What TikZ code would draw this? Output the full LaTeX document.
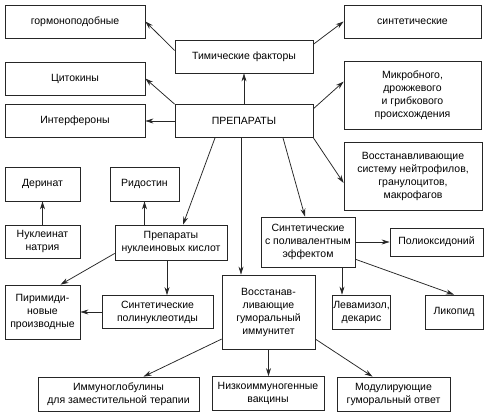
\documentclass[tikz,border=0pt]{standalone}
\usepackage{fontspec}
\setmainfont{Liberation Sans}
\usetikzlibrary{arrows.meta}

\tikzset{
	box/.style = {draw = black!85, line width = 0.75pt, align = center, inner sep = 1pt,
		font = \fontsize{10.5}{13}\selectfont},
	arr/.style = {draw = black!85, line width = 0.75pt, -{Stealth[length = 8pt, width = 5pt]}}
}

\begin{document}
\begin{tikzpicture}[x = 1pt, y = -1pt]
	\useasboundingbox[fill = white] (0,0) rectangle (484,412);
	% top row
	\node[box, minimum width = 140pt, minimum height = 33pt] (hormone) at (75,21.5) {гормоноподобные};
	\node[box, minimum width = 138pt, minimum height = 33pt] (thym) at (244,56.5) {Тимические факторы};
	\node[box, minimum width = 137pt, minimum height = 33pt] (synth) at (412.5,21.5) {синтетические};
	\node[box, minimum width = 140pt, minimum height = 33pt] (cyto) at (75,78.5) {Цитокины};
	\node[box, minimum width = 140pt, minimum height = 33pt] (interf) at (75,121) {Интерфероны};
	\node[box, minimum width = 138pt, minimum height = 33pt] (prep) at (244,121) {ПРЕПАРАТЫ};
	\node[box, minimum width = 137pt, minimum height = 68pt] (microb) at (412.5,95) {Микробного,\\дрожжевого\\и грибкового\\происхождения};
	\node[box, minimum width = 138pt, minimum height = 68pt] (neutro) at (413,176) {Восстанавливающие\\систему нейтрофилов,\\гранулоцитов,\\макрофагов};
	% middle
	\node[box, minimum width = 75pt, minimum height = 34pt] (derinat) at (42.5,184) {Деринат};
	\node[box, minimum width = 69pt, minimum height = 34pt] (ridostin) at (144.5,184) {Ридостин};
	\node[box, minimum width = 75pt, minimum height = 33pt] (nuclnat) at (42.5,241.5) {Нуклеинат\\натрия};
	\node[box, minimum width = 112pt, minimum height = 35pt] (nucl) at (171,242.5) {Препараты\\нуклеиновых кислот};
	\node[box, minimum width = 94pt, minimum height = 50pt] (poly) at (308,242) {Синтетические\\с поливалентным\\эффектом};
	\node[box, minimum width = 93pt, minimum height = 28pt] (polyox) at (436.5,242) {Полиоксидоний};
	\node[box, minimum width = 75pt, minimum height = 54pt] (pyrim) at (42.5,312) {Пиримиди-\\новые\\производные};
	\node[box, minimum width = 111pt, minimum height = 33pt] (polynucl) at (157.5,312) {Синтетические\\полинуклеотиды};
	\node[box, minimum width = 93pt, minimum height = 74pt] (humor) at (268.5,312) {Восстанав-\\ливающие\\гуморальный\\иммунитет};
	\node[box, minimum width = 58pt, minimum height = 34pt] (levam) at (361.5,312) {Левамизол,\\декарис};
	\node[box, minimum width = 58pt, minimum height = 34pt] (likopid) at (454,312) {Ликопид};
	% bottom row
	\node[box, minimum width = 161pt, minimum height = 34pt] (immunogl) at (118.5,394) {Иммуноглобулины\\для заместительной терапии};
	\node[box, minimum width = 112pt, minimum height = 34pt] (vaccine) at (268,393.5) {Низкоиммуногенные\\вакцины};
	\node[box, minimum width = 113pt, minimum height = 34pt] (modul) at (393.5,394) {Модулирующие\\гуморальный ответ};

	% arrows
	\draw[arr] (thym.175) -- (hormone.east);
	\draw[arr] (thym.10) -- (synth.west);
	\draw[arr] (prep.north) -- (thym.south);
	\draw[arr] (prep.north west) -- (cyto.east);
	\draw[arr] (prep.west) -- (interf.east);
	\draw[arr] (prep.10) -- (microb.169);
	\draw[arr] ([xshift = -29pt]prep.south) -- ([xshift = 12pt]nucl.north);
	\draw[arr] ([xshift = -3pt]prep.south) -- ([xshift = -3pt]prep.south |- humor.north);
	\draw[arr] ([xshift = 39pt]prep.south) -- ([xshift = -3pt]poly.north);
	\draw[arr] (prep.south east) -- ([yshift = -7pt]neutro.west);
	\draw[arr] (nuclnat.north) -- (derinat.south);
	\draw[arr] (nucl.north -| ridostin.south) -- (ridostin.south);
	\draw[arr] (nucl.191) -- ([xshift = 18pt]pyrim.north);
	\draw[arr] ([xshift = -4pt]nucl.south) -- ([xshift = -4pt]nucl.south |- polynucl.north);
	\draw[arr] (polynucl.west) -- (pyrim.east);
	\draw[arr] (poly.east) -- (poly.east -| polyox.west);
	\draw[arr] ([xshift = 34pt]poly.south) -- ([xshift = 34pt]poly.south |- levam.north);
	\draw[arr] (poly.-20) -- (likopid.north);
	\draw[arr] (humor.210) -- ([xshift = 25pt]immunogl.north);
	\draw[arr] (humor.south) -- (humor.south |- vaccine.north);
	\draw[arr] (humor.-30) -- ([xshift = -21pt]modul.north);
\end{tikzpicture}
\end{document}
